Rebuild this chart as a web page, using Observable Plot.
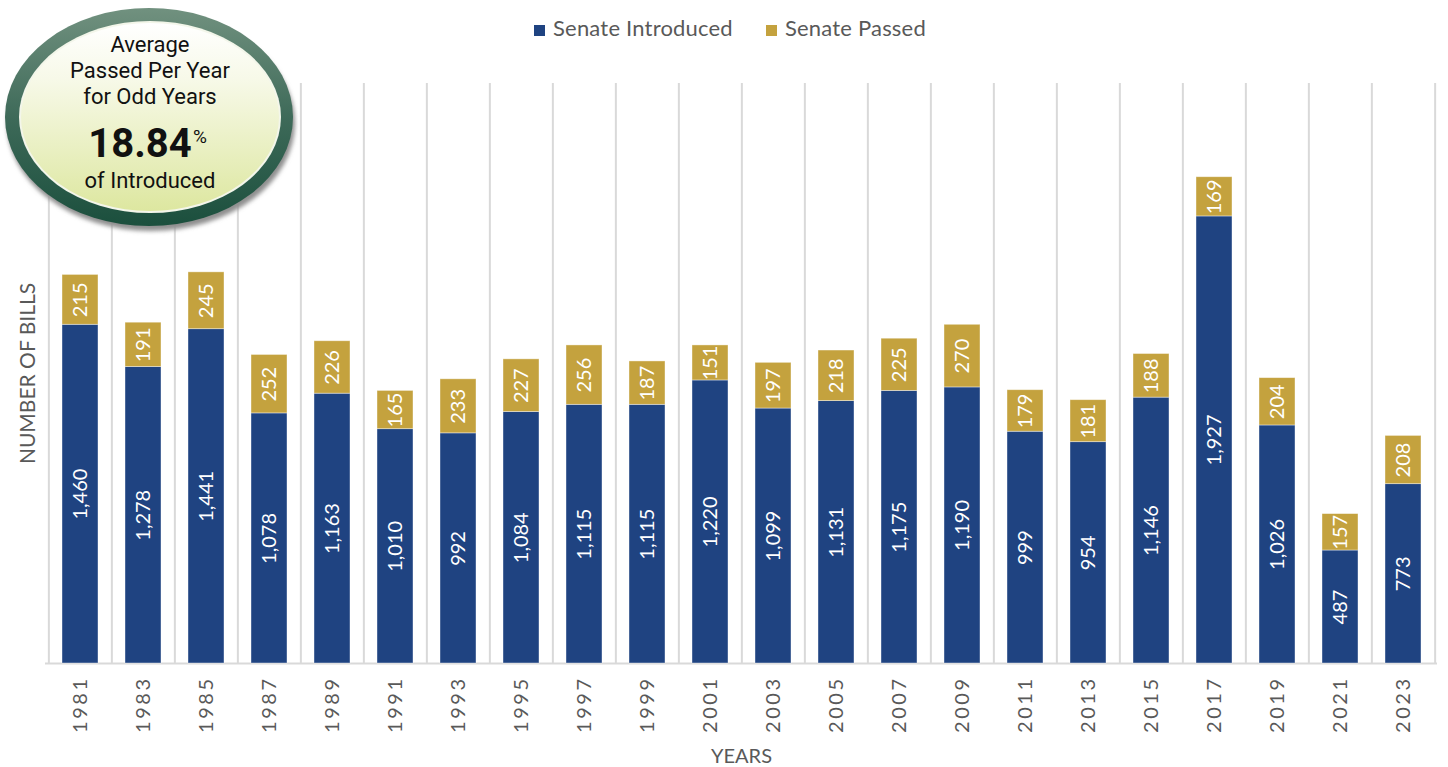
<!DOCTYPE html>
<html>
<head>
<meta charset="utf-8">
<script src="https://cdn.jsdelivr.net/npm/d3@7"></script>
<script src="https://cdn.jsdelivr.net/npm/@observablehq/plot@0.6"></script>
<style>
  html, body { margin: 0; padding: 0; background: #fff; }
  #wrap { position: relative; width: 1448px; height: 767px; overflow: hidden; font-family: Lato, "Open Sans", sans-serif; }
  #legend { height: 50px; display: flex; align-items: center; justify-content: flex-start; padding-left: 534px; padding-top: 4px; box-sizing: border-box; color: #595959; font-size: 22px; font-family: Lato, sans-serif; letter-spacing: 0.2px; }
  #legend .item { display: flex; align-items: center; margin-right: 33px; }
  #legend .sw { width: 11px; height: 11px; margin-right: 8px; margin-top: 6px; }
  #badge { position: absolute; left: 0; top: 0; }
  #chart svg { display: block; }
</style>
</head>
<body>
<div id="wrap">
  <div id="legend"></div>
  <div id="chart"></div>
  <svg id="badge" width="300" height="240" viewBox="0 0 300 240">
    <defs>
      <linearGradient id="ring" x1="0" y1="0" x2="0" y2="1">
        <stop offset="0" stop-color="#71917f"/>
        <stop offset="0.5" stop-color="#3e6a59"/>
        <stop offset="1" stop-color="#1b4f3d"/>
      </linearGradient>
      <linearGradient id="inner" x1="0" y1="0" x2="0" y2="1">
        <stop offset="0" stop-color="#ffffff"/>
        <stop offset="0.3" stop-color="#f7f9e8"/>
        <stop offset="1" stop-color="#dde7a0"/>
      </linearGradient>
      <filter id="blur" x="-10%" y="-10%" width="120%" height="130%">
        <feGaussianBlur stdDeviation="2"/>
      </filter>
    </defs>
    <ellipse cx="151" cy="123" rx="144" ry="108" fill="#8f8f8f" filter="url(#blur)"/>
    <ellipse cx="149" cy="117" rx="144" ry="109" fill="url(#ring)"/>
    <ellipse cx="150" cy="117" rx="131" ry="96" fill="#f3f6ea"/>
    <ellipse cx="150" cy="117" rx="129" ry="94" fill="url(#inner)"/>
    <g font-family="Roboto, 'Liberation Sans', sans-serif" fill="#111" text-anchor="middle">
      <text x="150" y="52" font-size="22">Average</text>
      <text x="150" y="78" font-size="22">Passed Per Year</text>
      <text x="150" y="104" font-size="22">for Odd Years</text>
      <text x="150" y="188" font-size="22">of Introduced</text>
      <text x="140" y="157" font-size="40" font-weight="bold">18.84</text>
      <text x="193" y="143" font-size="19" text-anchor="start">%</text>
    </g>
  </svg>
</div>
<script>
const years = ["1981","1983","1985","1987","1989","1991","1993","1995","1997","1999","2001","2003","2005","2007","2009","2011","2013","2015","2017","2019","2021","2023"];
const introduced = [1460,1278,1441,1078,1163,1010,992,1084,1115,1115,1220,1099,1131,1175,1190,999,954,1146,1927,1026,487,773];
const passed = [215,191,245,252,226,165,233,227,256,187,151,197,218,225,270,179,181,188,169,204,157,208];
const seriesNames = ["Senate Introduced", "Senate Passed"];
const seriesColors = ["#1f4381", "#c4a23e"];

const rows = [];
years.forEach((y, i) => {
  rows.push({year: y, series: seriesNames[0], value: introduced[i]});
  rows.push({year: y, series: seriesNames[1], value: passed[i]});
});

// legend
const legend = document.getElementById("legend");
seriesNames.forEach((name, i) => {
  const item = document.createElement("div");
  item.className = "item";
  const sw = document.createElement("div");
  sw.className = "sw";
  sw.style.background = seriesColors[i];
  const t = document.createElement("span");
  t.textContent = name;
  item.appendChild(sw); item.appendChild(t);
  legend.appendChild(item);
});

const W = 1448, H = 717;
const mL = 45, mR = 11, mT = 33, mB = 104;
const step = (W - mL - mR) / years.length;
const fmt = d3.format(",");

const chart = Plot.plot({
  width: W,
  height: H,
  marginLeft: mL,
  marginRight: mR,
  marginTop: mT,
  marginBottom: mB,
  style: {fontFamily: "Lato, 'Open Sans', sans-serif", color: "#595959", background: "white"},
  x: {type: "band", domain: years, paddingInner: 0.43, paddingOuter: 0.215},
  y: {domain: [0, 2500], axis: null},
  color: {domain: seriesNames, range: seriesColors},
  marks: [
    Plot.ruleX(years, {x: d => d, dx: -step / 2, stroke: "#d9d9d9", strokeWidth: 2}),
    Plot.ruleX([years[years.length - 1]], {x: d => d, dx: step / 2, stroke: "#d9d9d9", strokeWidth: 2}),
    Plot.ruleY([0], {stroke: "#d9d9d9", strokeWidth: 2}),
    Plot.barY(rows, {x: "year", y: "value", fill: "series", z: "series", stroke: "#ffffff", strokeWidth: 0.8, strokeOpacity: 0.5}),
    Plot.text(rows, Plot.stackY({x: "year", y: "value", z: "series", text: d => fmt(d.value), rotate: -90, fill: "white", fontSize: 20, lineAnchor: "middle"})),
    Plot.axisX({tickRotate: -90, tickSize: 0, tickPadding: 13, fontSize: 20, label: null, color: "#595959"}),
    Plot.text(["YEARS"], {frameAnchor: "bottom", dy: 93, fontSize: 20, fill: "#595959", lineAnchor: "middle"}),
    Plot.text(["NUMBER OF BILLS"], {frameAnchor: "left", dx: -17, rotate: -90, fontSize: 21, fill: "#595959", lineAnchor: "middle", textAnchor: "middle"})
  ]
});
document.getElementById("chart").appendChild(chart);
chart.querySelectorAll('[aria-label="x-axis tick label"] text').forEach(t => {
  t.style.letterSpacing = "2.5px";
});
</script>
</body>
</html>
